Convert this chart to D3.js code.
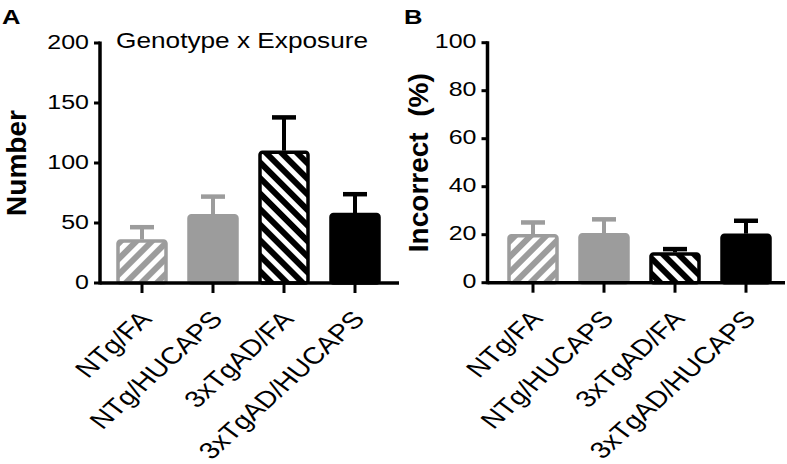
<!DOCTYPE html>
<html>
<head>
<meta charset="utf-8">
<script src="https://cdn.jsdelivr.net/npm/d3@7/dist/d3.min.js"></script>
<style>
  body { margin: 0; background: #fff; }
  text { font-family: "Liberation Sans", Arial, sans-serif; fill: #000; }
</style>
</head>
<body>
<div id="chart"></div>
<script>
// data
const categories = ["NTg/FA", "NTg/HUCAPS", "3xTgAD/FA", "3xTgAD/HUCAPS"];
const numberMeans = [35, 56, 109, 57];
const numberErr = [11.5, 16, 29, 17];
const incorrectMeans = [19.6, 20, 12, 19.8];
const incorrectErr = [5.5, 6.4, 2, 6];
const numberTicks = [0, 50, 100, 150, 200];
const incorrectTicks = [0, 20, 40, 60, 80, 100];

const W = 787, H = 464;
const SX = 1.22; // figure is stretched sideways, so is the text
const gray = "#9c9c9c";

const svg = d3.select("#chart").append("svg")
    .attr("width", W)
    .attr("height", H);

// stripe patterns
const defs = svg.append("defs");
function stripes(id, color, angle) {
    const p = defs.append("pattern")
        .attr("id", id)
        .attr("patternUnits", "userSpaceOnUse")
        .attr("width", 11)
        .attr("height", 11)
        .attr("patternTransform", "rotate(" + angle + ")");
    p.append("rect").attr("width", 11).attr("height", 11).attr("fill", "#fff");
    p.append("rect").attr("width", 6).attr("height", 11).attr("fill", color);
}
stripes("hatchGray", gray, 45);
stripes("hatchBlack", "#000", -45);

const barFill = ["url(#hatchGray)", gray, "url(#hatchBlack)", "#000"];
const barStroke = [gray, gray, "#000", "#000"];

function panel(opt) {
    const g = svg.append("g");
    const y = d3.scaleLinear().domain([0, opt.max]).range([opt.y0, opt.y1]);
    const x = d3.scaleBand().domain(categories).range(opt.band);
    const bw = 48;
    const cx = c => x(c) + x.bandwidth() / 2;

    // bars
    g.selectAll(".bar")
        .data(opt.means)
        .enter()
        .append("rect")
        .attr("x", (d, i) => cx(categories[i]) - bw / 2)
        .attr("y", d => y(d))
        .attr("width", bw)
        .attr("height", d => y(0) - y(d))
        .attr("rx", 2.5)
        .attr("fill", (d, i) => barFill[i])
        .attr("stroke", (d, i) => barStroke[i])
        .attr("stroke-width", 3.5);

    // error bars, upper only
    const eb = g.selectAll(".err")
        .data(opt.means)
        .enter()
        .append("g")
        .attr("stroke", (d, i) => barStroke[i]);
    eb.append("line")
        .attr("x1", (d, i) => cx(categories[i]))
        .attr("x2", (d, i) => cx(categories[i]))
        .attr("y1", d => y(d) - 1.5)
        .attr("y2", (d, i) => y(d + opt.err[i]))
        .attr("stroke-width", 4);
    eb.append("line")
        .attr("x1", (d, i) => cx(categories[i]) - 12)
        .attr("x2", (d, i) => cx(categories[i]) + 12)
        .attr("y1", (d, i) => y(d + opt.err[i]))
        .attr("y2", (d, i) => y(d + opt.err[i]))
        .attr("stroke-width", 4.5);

    // y axis
    g.append("line")
        .attr("x1", opt.ax).attr("x2", opt.ax)
        .attr("y1", y(opt.max) - 1.5).attr("y2", y(0) + 1.5)
        .attr("stroke", "#000").attr("stroke-width", 3.5);
    g.selectAll(".ytick")
        .data(opt.ticks)
        .enter()
        .append("line")
        .attr("x1", opt.ax - 6).attr("x2", opt.ax)
        .attr("y1", d => y(d)).attr("y2", d => y(d))
        .attr("stroke", "#000").attr("stroke-width", 3);
    g.selectAll(".ylab")
        .data(opt.ticks)
        .enter()
        .append("text")
        .attr("transform", d => "translate(" + (opt.ax - 11) + "," + y(d) + ") scale(" + SX + ",1)")
        .attr("dy", "0.27em")
        .attr("text-anchor", "end")
        .attr("font-size", 20.5)
        .text(d => d);

    // x axis
    g.append("line")
        .attr("x1", opt.ax).attr("x2", opt.axEnd)
        .attr("y1", y(0)).attr("y2", y(0))
        .attr("stroke", "#000").attr("stroke-width", 3.5);
    g.selectAll(".xtick")
        .data(categories)
        .enter()
        .append("line")
        .attr("x1", d => cx(d))
        .attr("x2", d => cx(d))
        .attr("y1", y(0)).attr("y2", y(0) + 10)
        .attr("stroke", "#000").attr("stroke-width", 3);
    g.selectAll(".xlab")
        .data(categories)
        .enter()
        .append("text")
        .attr("transform", d => "translate(" + (cx(d) + 11) + "," + (y(0) + 37) + ") scale(" + SX + ",1) rotate(-48)")
        .attr("text-anchor", "end")
        .attr("font-size", 23.5)
        .text(d => d);

    // axis title
    g.append("text")
        .attr("transform", "translate(" + opt.titleX + "," + (opt.y0 + opt.y1) / 2 + ") rotate(-90)")
        .attr("text-anchor", "middle")
        .attr("font-size", 28)
        .attr("font-weight", "bold")
        .style("white-space", "pre")
        .text(opt.title);

    // panel letter
    g.append("text")
        .attr("transform", "translate(" + opt.letterX + ",24) scale(" + SX + ",1)")
        .attr("font-size", 21)
        .attr("font-weight", "bold")
        .text(opt.letter);

    return g;
}

const gA = panel({
    means: numberMeans, err: numberErr, ticks: numberTicks, max: 200,
    y0: 283, y1: 43, band: [106.5, 390.5], ax: 100, axEnd: 399,
    title: "Number", titleX: 26, letter: "A", letterX: 2
});
gA.append("text")
    .attr("transform", "translate(116,48) scale(" + SX + ",1)")
    .attr("font-size", 21.5)
    .text("Genotype x Exposure");

panel({
    means: incorrectMeans, err: incorrectErr, ticks: incorrectTicks, max: 100,
    y0: 282.7, y1: 42.7, band: [497.5, 781.5], ax: 487.5, axEnd: 785,
    title: "Incorrect\u00a0\u00a0(%)", titleX: 428, letter: "B", letterX: 404
});
</script>
</body>
</html>
